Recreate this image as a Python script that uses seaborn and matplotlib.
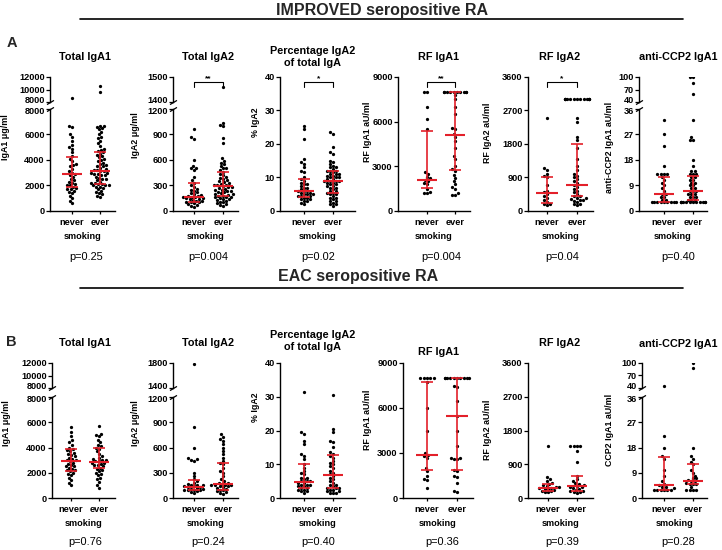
import warnings
warnings.filterwarnings('ignore')
import numpy as np
import pandas as pd
import matplotlib
matplotlib.use('Agg')
import matplotlib.pyplot as plt
import matplotlib.transforms as mtrans
from matplotlib.lines import Line2D
import seaborn as sns

sns.set_theme(style='ticks')
plt.rcParams['font.family'] = ['Liberation Sans', 'DejaVu Sans']
plt.rcParams['font.weight'] = 'bold'
plt.rcParams['axes.labelweight'] = 'bold'

# ---------------- DATA ----------------
groups = ['never', 'ever']
xlabel = 'smoking'
header_A = 'IMPROVED seropositive RA'
header_B = 'EAC seropositive RA'
titles = ['Total IgA1', 'Total IgA2', 'Percentage IgA2\nof total IgA', 'RF IgA1', 'RF IgA2', 'anti-CCP2 IgA1']
ylabels_A = ['IgA1 \u03bcg/ml', 'IgA2 \u03bcg/ml', '% IgA2', 'RF IgA1 aU/ml', 'RF IgA2 aU/ml', 'anti-CCP2 IgA1 aU/ml']
ylabels_B = ['IgA1 \u03bcg/ml', 'IgA2 \u03bcg/ml', '% IgA2', 'RF IgA1 aU/ml', 'RF IgA2 aU/ml', 'CCP2 IgA1 aU/ml']
pvals_A = ['p=0.25', 'p=0.004', 'p=0.02', 'p=0.004', 'p=0.04', 'p=0.40']
pvals_B = ['p=0.76', 'p=0.24', 'p=0.40', 'p=0.36', 'p=0.39', 'p=0.28']
sig_A = ['', '**', '*', '**', '*', '']
sig_B = ['', '', '', '', '', '']

# y tick labels (lower segment, upper segment for broken axes)
lower_ticks_A = [[0, 2000, 4000, 6000, 8000], [0, 300, 600, 900, 1200], [0, 10, 20, 30, 40],
                 [0, 3000, 6000, 9000], [0, 900, 1800, 2700, 3600], [0, 9, 18, 27, 36]]
upper_ticks_A = [[8000, 10000, 12000], [1400, 1500], None, None, None, [40, 70, 100]]
lower_ticks_B = [[0, 2000, 4000, 6000, 8000], [0, 300, 600, 900, 1200], [0, 10, 20, 30, 40],
                 [0, 3000, 6000, 9000], [0, 900, 1800, 2700, 3600], [0, 9, 18, 27, 36]]
upper_ticks_B = [[8000, 10000, 12000], [1400, 1800], None, None, None, [40, 70, 100]]

# Row A values
a_iga1_never = [8600, 6700, 6600, 6000, 5800, 5500, 5200, 5000, 4900, 4600, 4300, 4100, 3900, 3700, 3600,
                3500, 3300, 3100, 3000, 2900, 2800, 2700, 2500, 2400, 2300, 2200, 2100, 2000, 2000, 1900,
                1800, 1700, 1700, 1600, 1500, 1400, 1200, 1000, 800, 600]
a_iga1_ever = [10600, 9600, 6700, 6700, 6600, 6500, 6400, 6200, 6000, 5800, 5700, 5500, 5300, 5100, 4900,
               4800, 4700, 4600, 4500, 4400, 4300, 4200, 4100, 4000, 3900, 3800, 3700, 3600, 3500, 3500,
               3400, 3300, 3200, 3200, 3100, 3100, 3000, 3000, 2900, 2900, 2800, 2800, 2700, 2600, 2500,
               2500, 2400, 2300, 2200, 2200, 2100, 2100, 2000, 2000, 2000, 1900, 1900, 1800, 1700, 1600,
               1500, 1400, 1300, 1200, 1100]
a_iga1_stats = [[2900, 1900, 4250], [3100, 2100, 4650]]

a_iga2_never = [960, 870, 850, 600, 530, 510, 500, 480, 400, 360, 330, 300, 280, 260, 250, 240, 220, 210,
                200, 190, 180, 180, 170, 170, 160, 155, 150, 140, 140, 130, 120, 120, 110, 100, 100, 90,
                80, 70, 60, 50]
a_iga2_ever = [1460, 1040, 1010, 1000, 860, 800, 620, 590, 570, 550, 530, 510, 500, 480, 460, 440, 420,
               400, 390, 380, 360, 350, 340, 330, 320, 310, 300, 300, 290, 280, 280, 270, 260, 250, 250,
               240, 230, 220, 220, 210, 200, 200, 190, 180, 180, 170, 160, 160, 150, 140, 140, 130, 120,
               110, 100, 90, 80, 70, 60]
a_iga2_stats = [[170, 110, 330], [295, 180, 460]]

a_pct_never = [25.5, 24.5, 21.5, 15.5, 14.5, 14, 13, 12, 11.5, 10, 9.5, 9, 8.5, 8, 8, 7.5, 7, 7, 6.5, 6,
               6, 6, 5.5, 5.5, 5, 5, 5, 4.5, 4.5, 4.5, 4, 4, 3.5, 3.5, 3, 3, 2.5, 2]
a_pct_ever = [23.5, 23, 19, 17.5, 17, 15, 14.5, 14, 13.5, 13, 13, 12.5, 12, 12, 12, 11.5, 11, 11, 11,
              10.5, 10.5, 10, 10, 10, 9.5, 9.5, 9, 9, 9, 9, 8.5, 8.5, 8, 8, 7.5, 7.5, 7, 7, 6.5, 6, 6,
              5.5, 5.5, 5, 5, 4.5, 4, 4, 3.5, 3, 3, 2.5, 2, 2, 1.5]
a_pct_stats = [[6, 4.2, 9.5], [9, 5.5, 11.8]]

a_rf1_never = [8000, 8000, 7000, 6200, 5500, 2600, 2500, 2300, 2200, 2100, 2000, 1900, 1800, 1500, 1300,
               1200, 1200]
a_rf1_ever = [8000, 8000, 8000, 8000, 8000, 8000, 8000, 8000, 8000, 8000, 7800, 7500, 7000, 6500, 5600,
              5500, 5200, 5000, 4700, 4200, 3700, 3500, 3000, 2800, 2700, 2400, 2200, 2000, 1800, 1600,
              1500, 1200, 1100, 1100]
a_rf1_stats = [[2100, 1550, 5400], [5100, 2750, 8000]]

a_rf2_never = [2500, 1150, 1100, 1000, 950, 900, 700, 550, 500, 450, 400, 350, 300, 250, 200, 200, 150]
a_rf2_ever = [3000, 3000, 3000, 3000, 3000, 3000, 3000, 3000, 3000, 3000, 3000, 3000, 3000, 2500, 2400,
              2000, 1900, 1700, 1400, 1200, 1100, 1000, 950, 900, 850, 800, 750, 700, 650, 600, 550, 500,
              450, 400, 400, 350, 350, 320, 300, 300, 280, 250, 200, 180, 150]
a_rf2_stats = [[480, 220, 920], [700, 400, 1800]]

a_ccp_never = [32, 27, 23, 16, 13, 13, 13, 13, 12, 11, 10, 9, 8, 7, 6, 6, 5, 5, 4, 4, 3, 3, 3, 3, 3, 3,
               3, 3, 3]
a_ccp_ever = [100, 100, 85, 60, 32, 26, 25, 25, 18, 16, 14, 14, 13, 13, 13, 12, 12, 11, 11, 10, 10, 9, 9,
              8, 8, 7, 7, 7, 6, 6, 6, 5, 5, 5, 4, 4, 4, 3, 3, 3, 3, 3, 3, 3, 3, 3, 3, 3, 3]
a_ccp_stats = [[6, 3, 12], [7, 4, 12.5]]

# Row B values
b_iga1_never = [5600, 5200, 4900, 4600, 4400, 4200, 4000, 3900, 3800, 3700, 3600, 3500, 3400, 3300, 3200,
                3100, 3000, 3000, 2900, 2800, 2700, 2600, 2500, 2500, 2400, 2300, 2200, 2200, 2100, 2000,
                1900, 1800, 1600, 1400, 1200, 1000]
b_iga1_ever = [5700, 5100, 5000, 4900, 4600, 4400, 4200, 4100, 4000, 3900, 3700, 3500, 3300, 3200, 3100,
               3000, 3000, 2900, 2900, 2800, 2800, 2700, 2600, 2600, 2500, 2400, 2300, 2200, 2100, 2000,
               1900, 1800, 1600, 1500, 1300, 1000, 800]
b_iga1_stats = [[2950, 2100, 3850], [2850, 2400, 4000]]

b_iga2_never = [1780, 840, 600, 470, 460, 450, 440, 300, 260, 220, 200, 180, 170, 160, 150, 150, 140, 140,
                130, 130, 120, 110, 110, 100, 100, 90, 90, 80, 70, 60]
b_iga2_ever = [760, 730, 700, 680, 640, 600, 560, 520, 480, 440, 420, 400, 360, 320, 300, 260, 220, 200,
               180, 180, 170, 160, 160, 150, 150, 140, 140, 130, 120, 110, 100, 90, 80, 70, 60, 50]
b_iga2_stats = [[135, 90, 210], [165, 100, 420]]

b_pct_never = [31.5, 19.5, 19, 17, 16, 13, 12.5, 11.5, 10, 9, 8, 7.5, 7, 6, 6, 5.5, 5, 5, 5, 4.5, 4.5,
               4, 4, 4, 3.5, 3.5, 3, 3, 2.5, 2.5, 2, 2, 1.5]
b_pct_ever = [30.5, 20.5, 19.5, 17, 16.5, 15, 13.5, 13, 12.5, 12, 11, 10.5, 10, 9.5, 9, 8, 7.5, 7, 6.5,
              6, 5.5, 5, 4.5, 4, 4, 3.5, 3, 3, 3, 2.5, 2.5, 2, 2, 1.5, 1.5, 1.5]
b_pct_stats = [[4.8, 3, 10], [6.7, 3, 12.8]]

b_rf1_never = [8000, 8000, 8000, 8000, 8000, 7700, 6000, 4500, 3000, 2900, 2800, 2700, 2000, 1800, 1500,
               1300, 1200, 700]
b_rf1_ever = [8000, 8000, 8000, 8000, 8000, 8000, 8000, 8000, 8000, 8000, 7500, 7400, 6500, 5500, 4500,
              3500, 2700, 2700, 2600, 2600, 1900, 1800, 1500, 1400, 1000, 500, 400]
b_rf1_stats = [[2850, 1850, 7750], [5500, 1850, 8000]]

b_rf2_never = [1400, 550, 500, 450, 400, 380, 350, 320, 300, 300, 280, 260, 250, 240, 220, 200, 180, 160,
               150]
b_rf2_ever = [1400, 1400, 1400, 1400, 1250, 950, 600, 500, 450, 400, 380, 350, 320, 300, 300, 280, 250,
              220, 200, 180, 160, 150, 140]
b_rf2_stats = [[280, 180, 370], [320, 180, 600]]

b_ccp_never = [44, 22, 18, 15, 14, 10, 8, 6, 5, 4.5, 4, 4, 3.5, 3, 3, 3, 3, 3, 3]
b_ccp_ever = [100, 88, 18, 15, 14, 13, 12, 10, 9, 8, 7, 7, 6.5, 6, 6, 5.5, 5, 5, 5, 4, 3, 3, 3, 3]
b_ccp_stats = [[4.5, 3, 14.5], [6, 5, 12]]

data_A = [(a_iga1_never, a_iga1_ever, a_iga1_stats), (a_iga2_never, a_iga2_ever, a_iga2_stats),
          (a_pct_never, a_pct_ever, a_pct_stats), (a_rf1_never, a_rf1_ever, a_rf1_stats),
          (a_rf2_never, a_rf2_ever, a_rf2_stats), (a_ccp_never, a_ccp_ever, a_ccp_stats)]
data_B = [(b_iga1_never, b_iga1_ever, b_iga1_stats), (b_iga2_never, b_iga2_ever, b_iga2_stats),
          (b_pct_never, b_pct_ever, b_pct_stats), (b_rf1_never, b_rf1_ever, b_rf1_stats),
          (b_rf2_never, b_rf2_ever, b_rf2_stats), (b_ccp_never, b_ccp_ever, b_ccp_stats)]

# ---------------- LAYOUT (pixels) ----------------
W, H = 722, 550
RED = '#E3202A'
TICK_FS = 6.6
# per panel: spine x, never x, ever x, axis end x
geom_A = [(50, 72, 100, 115), (173, 194, 223, 238), (280, 304, 333, 355),
          (398, 427, 455, 470), (528, 547, 577, 593), (639, 664, 693, 707)]
geom_B = [(52, 71, 99, 115), (173, 194, 223, 238), (280, 304, 333, 355),
          (403, 427, 457, 473), (528, 548, 577, 593), (642, 664, 693, 707)]
# top, upper-bottom, lower-top, zero
rowy_A = (77, 102, 109, 211)
rowy_B = (363, 388, 397, 498)
title_pos_A = [(85, 57), (208, 57), (313, 57), (438, 57), (560, 57), (678, 57)]
title_pos_B = [(85, 343), (208, 343), (313, 341), (439, 352), (560, 343), (678, 344)]
ylab_pos_A = [(6, 137), (135, 135), (256, 122), (367, 132), (488, 133), (610, 147)]
ylab_pos_B = [(7, 423), (136, 423), (256, 407), (367, 420), (488, 430), (610, 430)]
ptext_y = {'A': 257, 'B': 542}
bracket_px = {'A': (82, 87)}

fig = plt.figure(figsize=(W / 100, H / 100), dpi=100)
fig.patch.set_facecolor('white')


def fx(px):
    return px / W


def fy(py):
    return 1 - py / H


def add_ax(x0, x1, top, bottom):
    return fig.add_axes([fx(x0), fy(bottom), (x1 - x0) / W, (bottom - top) / H])


def swarm(ax, nv, ev):
    df = pd.DataFrame({'smoking': ['never'] * len(nv) + ['ever'] * len(ev),
                       'value': list(nv) + list(ev)})
    if len(df):
        sns.swarmplot(data=df, x='smoking', y='value', order=groups, ax=ax, color='black',
                      size=2.35, linewidth=0, zorder=3)


def style_y(ax, ticks):
    ax.set_yticks(ticks)
    ax.set_yticklabels([str(t) for t in ticks])
    ax.tick_params(axis='y', length=3, width=0.9, pad=0.8, labelsize=TICK_FS, colors='black')
    for lbl in ax.get_yticklabels():
        lbl.set_fontweight('bold')
    ax.spines['left'].set_linewidth(1.0)
    ax.spines['left'].set_color('black')
    ax.spines['top'].set_visible(False)
    ax.spines['right'].set_visible(False)
    ax.set_ylabel('')
    ax.patch.set_alpha(0)


def shift_label(ax, idx, dy_px):
    lbl = ax.yaxis.get_major_ticks()[idx].label1
    lbl.set_transform(lbl.get_transform() + mtrans.ScaledTranslation(0, dy_px / 100, fig.dpi_scale_trans))


def break_mark(ax, yfrac):
    ax.plot([0], [yfrac], transform=ax.transAxes, marker=[(-1, -0.6), (1, 0.6)], markersize=5,
            color='black', mew=0.9, clip_on=False, zorder=5)


def draw_row(row, data, geom, rowy, lticks, uticks, ylabels, ylab_pos, title_pos, pvals, sigs):
    top, up_bot, lo_top, zero = rowy
    for i in range(6):
        nv, ev, stats = data[i]
        spine, xn, xe, end = geom[i]
        u = xe - xn
        xlim = ((spine - xn) / u, (end - xn) / u)
        broken = uticks[i] is not None
        lo_max = lticks[i][-1]
        if broken:
            ax = add_ax(spine, end, lo_top, zero)
            axu = add_ax(spine, end, top, up_bot)
            swarm(axu, [v for v in nv if v > lo_max], [v for v in ev if v > lo_max])
            axu.set_xlim(*xlim)
            axu.set_ylim(uticks[i][0], uticks[i][-1])
            style_y(axu, uticks[i])
            axu.spines['bottom'].set_visible(False)
            axu.set_xticks([])
            axu.set_xlabel('')
            break_mark(axu, 0)
        else:
            ax = add_ax(spine, end, top, zero)
            axu = None
        swarm(ax, [v for v in nv if v <= lo_max], [v for v in ev if v <= lo_max])
        for k, (med, q1, q3) in enumerate(stats):
            ax.errorbar(k, med, yerr=[[med - q1], [q3 - med]], color=RED, capsize=4.2,
                        elinewidth=1.2, capthick=1.2, zorder=4, fmt='none')
            ax.hlines(med, k - 0.36, k + 0.36, color=RED, lw=1.5, zorder=4)
        ax.set_xlim(*xlim)
        ax.set_ylim(0, lo_max)
        style_y(ax, lticks[i])
        ax.spines['bottom'].set_linewidth(1.0)
        ax.spines['bottom'].set_color('black')
        ax.set_xticks([0, 1])
        ax.set_xticklabels(groups)
        ax.tick_params(axis='x', length=2.5, width=0.9, pad=2.5, labelsize=TICK_FS, colors='black')
        for lbl in ax.get_xticklabels():
            lbl.set_fontweight('bold')
        ax.set_xlabel(xlabel, fontsize=TICK_FS, fontweight='bold', labelpad=4, color='black')
        if broken:
            break_mark(ax, 1)
            shift_label(axu, 0, 2.5)
            shift_label(ax, len(lticks[i]) - 1, -1.5)
        # significance bracket
        if sigs[i]:
            bar_px, tick_px = bracket_px[row]
            tgt = axu if broken else ax
            t0 = top
            t1 = up_bot if broken else zero
            yb = 1 - (bar_px - t0) / (t1 - t0)
            yt = 1 - (tick_px - t0) / (t1 - t0)
            trans = mtrans.blended_transform_factory(tgt.transData, tgt.transAxes)
            tgt.plot([0, 0, 1, 1], [yt, yb, yb, yt], color='black', lw=0.8, transform=trans,
                     clip_on=False, zorder=5)
            tgt.text(0.5, yb, sigs[i], transform=trans, ha='center', va='bottom', fontsize=6,
                     color='black', fontweight='bold')
        # texts
        tx, ty = title_pos[i]
        fig.text(fx(tx), fy(ty), titles[i], ha='center', va='center', fontsize=7.8,
                 fontweight='bold', color='black', linespacing=1.25)
        lx, ly = ylab_pos[i]
        fig.text(fx(lx), fy(ly), ylabels[i], rotation=90, ha='center', va='center', fontsize=6.4,
                 fontweight='bold', color='black')
        fig.text(fx((xn + xe) / 2), fy(ptext_y[row]), pvals[i], ha='center', va='center',
                 fontsize=7.9, fontweight='normal', color='black')


draw_row('A', data_A, geom_A, rowy_A, lower_ticks_A, upper_ticks_A, ylabels_A, ylab_pos_A,
         title_pos_A, pvals_A, sig_A)
draw_row('B', data_B, geom_B, rowy_B, lower_ticks_B, upper_ticks_B, ylabels_B, ylab_pos_B,
         title_pos_B, pvals_B, sig_B)

# headers
fig.text(fx(382), fy(10), header_A, ha='center', va='center', fontsize=11.5, fontweight='bold')
fig.text(fx(358), fy(276), header_B, ha='center', va='center', fontsize=11.5, fontweight='bold')
for yy in (19, 288):
    fig.add_artist(Line2D([fx(80), fx(683)], [fy(yy), fy(yy)], color='black', lw=1.2))
fig.text(fx(12), fy(43), 'A', ha='center', va='center', fontsize=10.5, fontweight='bold')
fig.text(fx(11), fy(342), 'B', ha='center', va='center', fontsize=10.5, fontweight='bold')

fig.savefig('out.png', dpi=100, facecolor='white')
